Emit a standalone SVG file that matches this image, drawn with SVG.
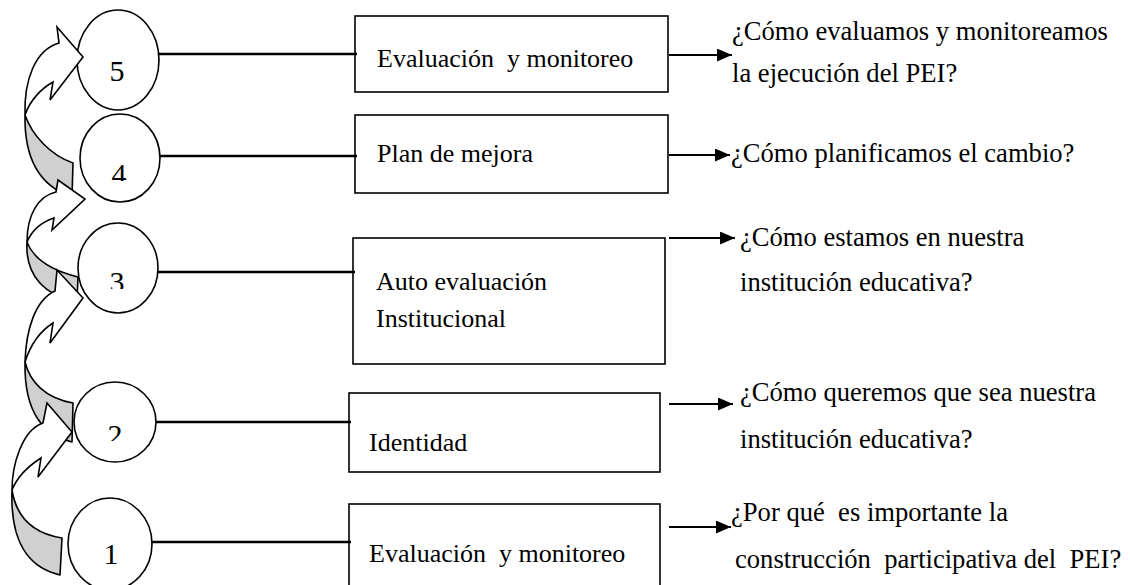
<svg xmlns="http://www.w3.org/2000/svg" width="1130" height="585" viewBox="0 0 1130 585">
<style>
text{font-family:"Liberation Serif","Times New Roman",Times,"DejaVu Serif",serif;font-size:26px;fill:#000;white-space:pre}
.q{font-size:26.6px}
.num{font-size:30px;text-anchor:middle}
.circ{fill:#fff;stroke:#000;stroke-width:1.6}
.box{fill:#fff;stroke:#000;stroke-width:1.6}
.link{stroke:#000;stroke-width:2.6;fill:none}
.arr{stroke:#000;stroke-width:2;fill:none}
.back{fill:#d0d0d0;stroke:#000;stroke-width:1.6;stroke-linejoin:round}
.front{fill:#fff;stroke:#000;stroke-width:1.6;stroke-linejoin:miter}
</style>
<defs>
<marker id="ah" markerUnits="userSpaceOnUse" markerWidth="16" markerHeight="14" refX="15" refY="6.5" orient="auto">
<path d="M0,0 L15,6.5 L0,13 Z" fill="#000"/>
</marker>
<clipPath id="c4"><rect x="90" y="150" width="60" height="31"/></clipPath>
<clipPath id="c3"><rect x="90" y="260" width="60" height="29"/></clipPath>
<clipPath id="c2"><rect x="90" y="415" width="60" height="26"/></clipPath>
</defs>
<g id="n5">
<ellipse class="circ" cx="118" cy="60" rx="41" ry="50"/>
<text class="num" x="117" y="81" font-family="Liberation Serif">5</text>
</g>
<g id="n4">
<ellipse class="circ" cx="120" cy="158" rx="40" ry="44"/>
<text class="num" x="119" y="184" clip-path="url(#c4)" font-family="Liberation Serif">4</text>
</g>
<g id="n3">
<ellipse class="circ" cx="118" cy="268" rx="40" ry="45"/>
<text class="num" x="117" y="292" clip-path="url(#c3)" font-family="Liberation Serif">3</text>
</g>
<g id="n2">
<ellipse class="circ" cx="115" cy="422" rx="41" ry="40"/>
<text class="num" x="115" y="445" clip-path="url(#c2)" font-family="Liberation Serif">2</text>
</g>
<g id="n1">
<ellipse class="circ" cx="110" cy="544" rx="42" ry="46"/>
<text class="num" x="111" y="564" font-family="Liberation Serif">1</text>
</g>
<g id="cycle-arrows">
<path class="back" d="M25,115 C32,135 50,155 73,163 L72,197 C45,188 24,165 25,115 Z"/>
<path class="back" d="M27,242 C33,258 50,270 78,277 L77,300 C45,297 25,275 27,242 Z"/>
<path class="back" d="M25,362 C30,382 45,398 73,403 L72,442 C45,435 24,415 25,362 Z"/>
<path class="back" d="M12,490 C16,515 30,533 62,538 L60,575 C30,568 10,545 12,490 Z"/>
<path class="front" d="M25,115 C24,80 35,50 59,43 L57,27 L83,57 L50,100 L53,82 C42,88 30,100 25,115 Z"/>
<path class="front" d="M27,242 C27,215 38,196 56,192 L58,180 L85,199 L52,230 L54,218 C42,222 32,230 27,242 Z"/>
<path class="front" d="M25,362 C26,330 35,300 55,291 L57,270 L83,298 L50,343 L53,323 C42,330 31,343 25,362 Z"/>
<path class="front" d="M12,490 C12,465 22,430 43,423 L47,403 L72,432 L38,477 L41,458 C30,465 18,475 12,490 Z"/>
</g>
<g id="b5">
<rect class="box" x="355" y="16" width="313" height="76"/>
<text x="377" y="67" font-family="Liberation Serif">Evaluación  y monitoreo</text>
</g>
<g id="b4">
<rect class="box" x="355" y="115" width="313" height="78"/>
<text x="377" y="162" font-family="Liberation Serif">Plan de mejora</text>
</g>
<g id="b3">
<rect class="box" x="353" y="238" width="312" height="126"/>
<text x="376" y="290" font-family="Liberation Serif">Auto evaluación</text>
<text x="376" y="327" font-family="Liberation Serif">Institucional</text>
</g>
<g id="b2">
<rect class="box" x="349" y="393" width="311" height="79"/>
<text x="369" y="451" font-family="Liberation Serif">Identidad</text>
</g>
<g id="b1">
<rect class="box" x="349" y="504" width="311" height="100"/>
<text x="369" y="562" font-family="Liberation Serif">Evaluación  y monitoreo</text>
</g>
<g id="q5">
<text class="q" x="732" y="40" font-family="Liberation Serif">¿Cómo evaluamos y monitoreamos</text>
<text class="q" x="732" y="82" font-family="Liberation Serif">la ejecución del PEI?</text>
</g>
<g id="q4">
<text class="q" x="731" y="162" font-family="Liberation Serif">¿Cómo planificamos el cambio?</text>
</g>
<g id="q3">
<text class="q" x="740" y="246" font-family="Liberation Serif">¿Cómo estamos en nuestra</text>
<text class="q" x="740" y="291" font-family="Liberation Serif">institución educativa?</text>
</g>
<g id="q2">
<text class="q" x="740" y="401" font-family="Liberation Serif">¿Cómo queremos que sea nuestra</text>
<text class="q" x="740" y="448" font-family="Liberation Serif">institución educativa?</text>
</g>
<g id="q1">
<text class="q" x="731" y="521" font-family="Liberation Serif">¿Por qué  es importante la</text>
<text class="q" x="735" y="568" font-family="Liberation Serif">construcción  participativa del  PEI?</text>
</g>
<g id="connectors">
<line class="link" x1="159" y1="54" x2="357" y2="54"/>
<line class="link" x1="160" y1="156" x2="357" y2="156"/>
<line class="link" x1="158" y1="272" x2="355" y2="272"/>
<line class="link" x1="156" y1="422" x2="351" y2="422"/>
<line class="link" x1="152" y1="542" x2="351" y2="542"/>
<line class="arr" x1="669" y1="55" x2="732" y2="55" marker-end="url(#ah)"/>
<line class="arr" x1="669" y1="155" x2="730" y2="155" marker-end="url(#ah)"/>
<line class="arr" x1="669" y1="238" x2="735" y2="238" marker-end="url(#ah)"/>
<line class="arr" x1="669" y1="404" x2="733" y2="404" marker-end="url(#ah)"/>
<line class="arr" x1="669" y1="527" x2="731" y2="527" marker-end="url(#ah)"/>
</g>
</svg>
